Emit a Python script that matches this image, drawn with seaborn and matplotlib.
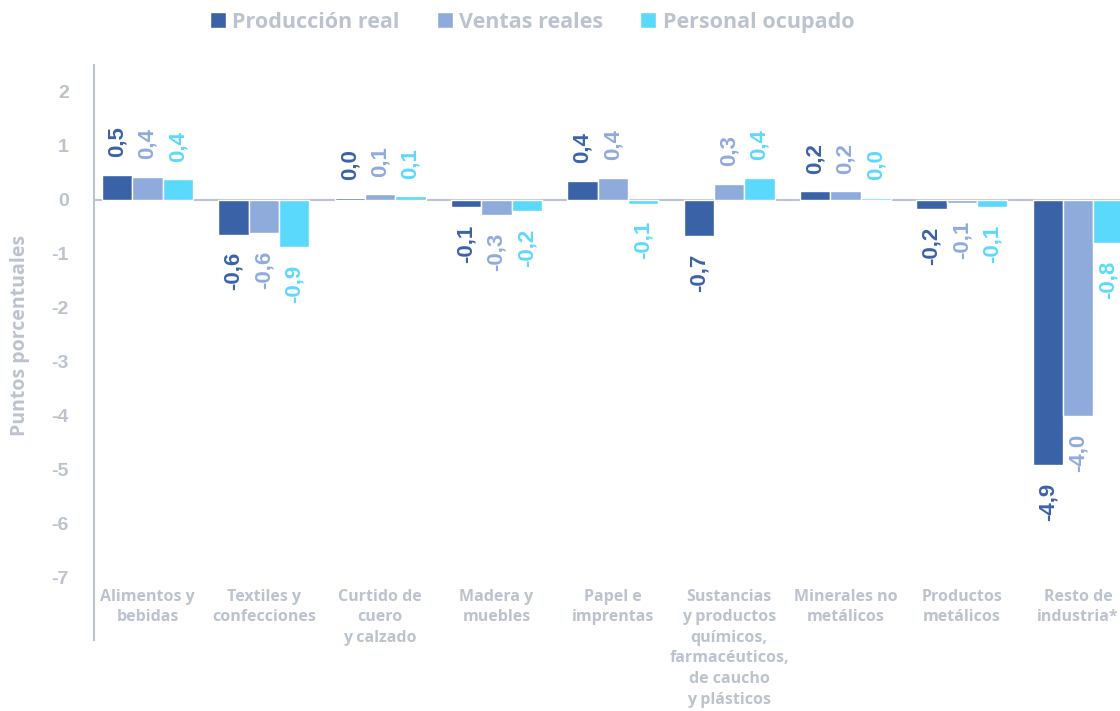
import matplotlib
matplotlib.use("Agg")
import matplotlib.pyplot as plt
from matplotlib import font_manager as fm
import seaborn as sns
import pandas as pd

# Datos del gráfico (puntos porcentuales)
sectores = [
    "Alimentos y\nbebidas",
    "Textiles y\nconfecciones",
    "Curtido de\ncuero\ny calzado",
    "Madera y\nmuebles",
    "Papel e\nimprentas",
    "Sustancias\ny productos\nquímicos,\nfarmacéuticos,\nde caucho\ny plásticos",
    "Minerales no\nmetálicos",
    "Productos\nmetálicos",
    "Resto de\nindustria*",
]
series = ["Producción real", "Ventas reales", "Personal ocupado"]
produccion = [0.47, -0.64, 0.04, -0.13, 0.36, -0.67, 0.16, -0.17, -4.91]
ventas = [0.43, -0.61, 0.11, -0.28, 0.41, 0.30, 0.16, -0.06, -4.00]
personal = [0.39, -0.87, 0.07, -0.21, -0.07, 0.41, 0.04, -0.13, -0.80]
y_ticks = [-7, -6, -5, -4, -3, -2, -1, 0, 1, 2]

colores = ["#3A62A7", "#8FABDC", "#5BD9FD"]
gris = "#BCC3CE"

df = pd.DataFrame({
    "Sector": sectores * 3,
    "Serie": [series[0]] * 9 + [series[1]] * 9 + [series[2]] * 9,
    "Valor": produccion + ventas + personal,
})

sns.set_theme(style="white")
plt.rcParams["axes.unicode_minus"] = False

# Fuente para textos: primera familia instalada con variante negrita
negritas = {f.name for f in fm.fontManager.ttflist if f.weight in (700, "bold")}
fuente = next((f for f in ["Open Sans", "Lato", "Noto Sans", "Roboto"] if f in negritas),
              "DejaVu Sans")

fig = plt.figure(figsize=(11.2, 7.11), dpi=100)
ax = fig.add_axes([94 / 1120, 71 / 711, 1 - 94 / 1120, 575 / 711])

sns.barplot(data=df, x="Sector", y="Valor", hue="Serie", order=sectores,
            hue_order=series, palette=colores, saturation=1, width=0.78,
            errorbar=None, ax=ax, zorder=2)

ax.axhline(0, color=gris, lw=1.5, zorder=1)

# Etiquetas de datos
for cont, col, vals in zip(ax.containers, colores, [produccion, ventas, personal]):
    etiquetas = [f"{v:.1f}".replace(".", ",") for v in vals]
    ax.bar_label(cont, labels=etiquetas, padding=12.5, rotation=90, color=col,
                 fontsize=16, fontweight="bold", family="Liberation Sans")

ax.set_xlim(-0.46, 8.36)
ax.set_ylim(-8.15, 2.5)
ax.set_yticks(y_ticks)
ax.set_yticklabels([str(t) for t in y_ticks], fontsize=14, fontweight="bold",
                   color=gris, family="Liberation Sans")
ax.tick_params(axis="y", length=0, pad=18)
ax.set_xticks([])
ax.set_xlabel("")
ax.set_ylabel("")

for s in ["top", "right", "bottom"]:
    ax.spines[s].set_visible(False)
ax.spines["left"].set_color(gris)
ax.spines["left"].set_linewidth(1.5)

# Nombres de sectores dentro del área del gráfico
for i, s in enumerate(sectores):
    ax.text(i, -7.2, s, ha="center", va="top", fontsize=11.5, fontweight="bold",
            color=gris, family=fuente, linespacing=1.38)

fig.text(20 / 1120, 1 - 335 / 711, "Puntos porcentuales", rotation=90,
         ha="center", va="center", fontsize=14, fontweight="bold",
         color=gris, family=fuente)

handles, labels = ax.get_legend_handles_labels()
ax.legend_.remove()
fig.legend(handles, labels, loc="center", bbox_to_anchor=(0.475, 0.969),
           ncol=3, frameon=False, handlelength=0.75, handleheight=0.75,
           handletextpad=0.3, columnspacing=1.7,
           prop={"family": fuente, "weight": "bold", "size": 15.5},
           labelcolor=gris)

fig.savefig("out.png", dpi=100)
